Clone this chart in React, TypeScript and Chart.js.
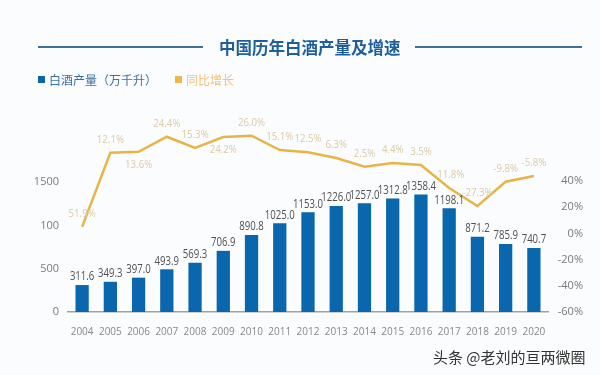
import React, { useEffect, useRef } from "react";
import { Chart, registerables } from "chart.js";
Chart.register(...registerables);

const years = ["2004","2005","2006","2007","2008","2009","2010","2011","2012","2013","2014","2015","2016","2017","2018","2019","2020"];
const output = [311.6, 349.3, 397.0, 493.9, 569.3, 706.9, 890.8, 1025.0, 1153.0, 1226.0, 1257.0, 1312.8, 1358.4, 1198.1, 871.2, 785.9, 740.7];
const outputLabels = ["311.6","349.3","397.0","493.9","569.3","706.9","890.8","1025.0","1153.0","1226.0","1257.0","1312.8","1358.4","1198.1","871.2","785.9","740.7"];
const growthLine = [5, 61.7, 62.4, 73.9, 65.3, 73.7, 74.7, 63.7, 62, 57.6, 51, 53.8, 52.3, 34.7, 21, 39.5, 43.9];
const growthLabels = ["51.9%","12.1%","13.6%","24.4%","15.3%","24.2%","26.0%","15.1%","12.5%","6.3%","2.5%","4.4%","3.5%","-11.8%","-27.3%","-9.8%","-5.8%"];
const growthLabelBelow = [false,false,true,false,false,true,false,false,false,false,false,false,false,false,false,false,false];
const leftTicks = [0, 500, 1000, 1500];
const leftTickLabels = ["0", "500", "100", "1500"];
const rightTicks = [-60, -40, -20, 0, 20, 40];

const BAR = "#0a67ae";
const LINE = "#e8b448";

function narrowText(ctx: any, text: string, x: number, y: number, sx: number) {
  ctx.save();
  ctx.translate(x, y);
  ctx.scale(sx, 1);
  ctx.fillText(text, 0, 0);
  ctx.restore();
}

const labelPlugin = {
  id: "valueLabels",
  afterDatasetsDraw(chart: any) {
    const ctx = chart.ctx;
    ctx.save();
    ctx.textAlign = "center";
    const barMeta = chart.getDatasetMeta(1);
    ctx.font = "12px 'Open Sans'";
    ctx.fillStyle = "#505050";
    ctx.textBaseline = "bottom";
    barMeta.data.forEach((el: any, i: number) => {
      narrowText(ctx, outputLabels[i], el.x, el.y - 2, 0.8);
    });
    const lineMeta = chart.getDatasetMeta(0);
    ctx.font = "11px 'Open Sans'";
    ctx.fillStyle = "#dbcba6";
    ctx.textBaseline = "middle";
    lineMeta.data.forEach((el: any, i: number) => {
      const dy = growthLabelBelow[i] ? 13 : -13;
      narrowText(ctx, growthLabels[i], el.x, el.y + dy, 0.88);
    });
    ctx.restore();
  },
};

export default function App() {
  const ref = useRef<HTMLCanvasElement>(null);
  useEffect(() => {
    if (!ref.current) return;
    const tickFont = { size: 11, family: "'Open Sans'" };
    const chart = new Chart(ref.current, {
      type: "bar",
      data: {
        labels: years,
        datasets: [
          {
            type: "line",
            data: growthLine,
            yAxisID: "y1",
            borderColor: LINE,
            borderWidth: 2.5,
            pointRadius: 0,
            tension: 0,
            order: 0,
            clip: false,
          } as any,
          {
            type: "bar",
            data: output,
            yAxisID: "y",
            backgroundColor: BAR,
            barPercentage: 0.47,
            categoryPercentage: 1,
            order: 1,
          } as any,
        ],
      },
      options: {
        responsive: false,
        animation: false,
        layout: { padding: { top: 123, bottom: 33, left: 0, right: 17 } },
        plugins: { legend: { display: false }, tooltip: { enabled: false } },
        scales: {
          x: {
            grid: { display: false, drawTicks: false },
            border: { display: true, color: "#9aa3ab", width: 1.5 },
            ticks: { padding: 14, color: "#888", font: { size: 10, family: "'Open Sans'" }, maxRotation: 0, autoSkip: false },
            afterFit: (s: any) => { s.height = 30; },
          },
          y: {
            position: "left",
            min: 0,
            max: 2185,
            grid: { display: false, drawTicks: false },
            border: { display: false },
            ticks: {
              padding: 9,
              color: "#7a7a7a",
              font: tickFont,
              callback: (v: any) => leftTickLabels[leftTicks.indexOf(Number(v))],
            },
            afterBuildTicks: (s: any) => { s.ticks = leftTicks.map((v) => ({ value: v })); },
            afterFit: (s: any) => { s.width = 68; },
          },
          y1: {
            position: "right",
            min: -60,
            max: 84.4,
            grid: { display: false, drawTicks: false },
            border: { display: false },
            ticks: {
              padding: 5,
              color: "#7a7a7a",
              font: tickFont,
              crossAlign: "far",
              callback: (v: any) => v + "%",
            },
            afterBuildTicks: (s: any) => { s.ticks = rightTicks.map((v) => ({ value: v })); },
            afterFit: (s: any) => { s.width = 35; },
          },
        } as any,
      },
      plugins: [labelPlugin],
    });
    return () => chart.destroy();
  }, []);

  const cjk = "'Noto Sans CJK SC', 'Noto Sans', sans-serif";
  return (
    <div style={{ position: "fixed", left: 0, top: 0, width: 600, height: 375, background: "#fbfcfd", overflow: "hidden" }}>
      <canvas ref={ref} width={600} height={375} style={{ position: "absolute", left: 0, top: 0 }} />
      <div style={{ position: "absolute", left: 38, top: 46, width: 165, height: 1.5, background: "#3f6f9a" }} />
      <div style={{ position: "absolute", left: 415, top: 46, width: 167, height: 1.5, background: "#3f6f9a" }} />
      <div style={{ position: "absolute", left: 219, top: 36, fontFamily: cjk, fontSize: 16.5, lineHeight: "22px", fontWeight: 700, color: "#1e5e9c", whiteSpace: "nowrap" }}>中国历年白酒产量及增速</div>
      <div style={{ position: "absolute", left: 38, top: 76, width: 7, height: 7, background: BAR }} />
      <div style={{ position: "absolute", left: 49, top: 71, fontFamily: cjk, fontSize: 12, lineHeight: "17px", color: "#3b6fa6", whiteSpace: "nowrap" }}>白酒产量（万千升）</div>
      <div style={{ position: "absolute", left: 175, top: 76, width: 7, height: 7, background: "#f3b548" }} />
      <div style={{ position: "absolute", left: 186, top: 71, fontFamily: cjk, fontSize: 12, lineHeight: "17px", color: "#f2c37c", whiteSpace: "nowrap" }}>同比增长</div>
      <div style={{ position: "absolute", left: 433, top: 347, fontFamily: cjk, fontSize: 15, lineHeight: "20px", color: "#333", whiteSpace: "nowrap" }}>头条 @老刘的亘两微圈</div>
    </div>
  );
}
